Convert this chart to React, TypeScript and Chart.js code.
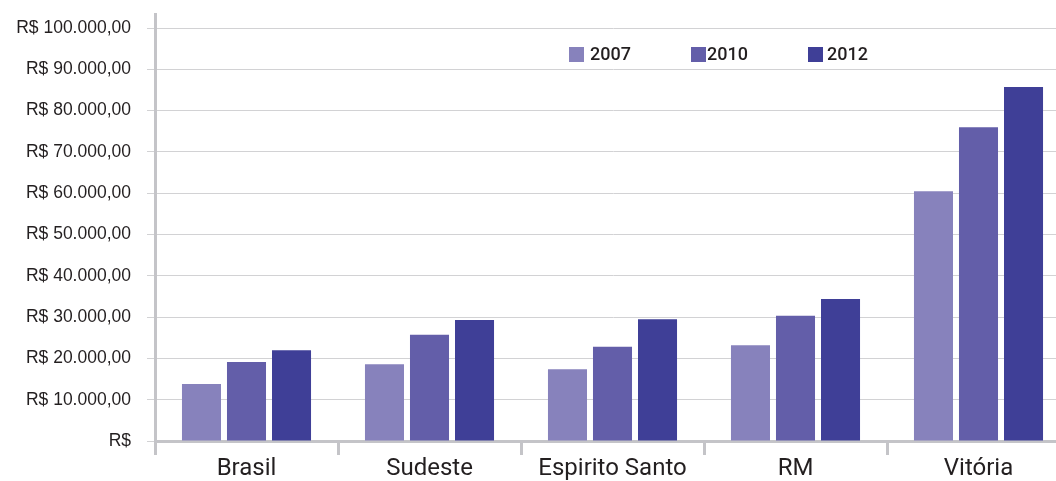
import React, { useEffect, useRef } from "react";
import { Chart, registerables } from "chart.js";

Chart.register(...registerables);

const categories = ["Brasil", "Sudeste", "Espirito Santo", "RM", "Vitória"];
const seriesNames = ["2007", "2010", "2012"];
const values2007 = [13800, 18600, 17400, 23200, 60500];
const values2010 = [19100, 25700, 22800, 30300, 76000];
const values2012 = [22000, 29300, 29500, 34400, 85700];
const yTickValues = [0, 10000, 20000, 30000, 40000, 50000, 60000, 70000, 80000, 90000, 100000];
const seriesColors = ["#8782bc", "#635ea9", "#3f3f97"];

const fmt = (v: number) => {
  if (v === 0) return "R$";
  const s = Math.round(v).toString().replace(/\B(?=(\d{3})+(?!\d))/g, ".");
  return "R$ " + s + ",00";
};

const legendLeft = [569, 691, 808];

export default function App() {
  const ref = useRef<HTMLCanvasElement>(null);
  useEffect(() => {
    if (!ref.current) return;
    const seriesValues = [values2007, values2010, values2012];
    const chart = new Chart(ref.current, {
      type: "bar",
      data: {
        labels: categories,
        datasets: seriesNames.map((n, i) => ({
          label: n,
          data: seriesValues[i],
          backgroundColor: seriesColors[i],
          borderWidth: 0,
          barPercentage: 0.867,
          categoryPercentage: 0.738,
        })),
      },
      options: {
        responsive: false,
        animation: false,
        layout: { padding: { top: 14, left: 0, right: 0, bottom: 0 } },
        plugins: { legend: { display: false }, tooltip: { enabled: false } },
        scales: {
          x: {
            offset: true,
            grid: {
              offset: true,
              drawOnChartArea: false,
              drawTicks: true,
              tickLength: 14,
              color: "#c4c4c8",
              lineWidth: 3,
            },
            border: { color: "#c4c4c8", width: 3 },
            ticks: {
              padding: 0,
              color: "#231f20",
              font: { family: "Roboto", size: 24 },
              maxRotation: 0,
              autoSkip: false,
            },
            afterFit: (s: any) => {
              s.height = 40;
            },
          },
          y: {
            min: 0,
            max: 103400,
            grid: {
              color: "#d2d2d4",
              lineWidth: 1,
              tickLength: 8,
            },
            border: { color: "#c4c4c8", width: 3 },
            ticks: {
              padding: 16,
              color: "#231f20",
              font: { family: "Liberation Sans", size: 17.5 },
              callback: (v: any) => fmt(Number(v)),
            },
            afterBuildTicks: (axis: any) => {
              axis.ticks = yTickValues.map((v) => ({ value: v }));
            },
            afterFit: (s: any) => {
              s.width = 155;
              s.paddingTop = 0;
              s.paddingBottom = 0;
            },
          },
        },
      },
    });
    return () => chart.destroy();
  }, []);

  return (
    <div
      style={{
        position: "absolute",
        left: 0,
        top: 0,
        width: 1056,
        height: 481,
        overflow: "hidden",
        background: "#ffffff",
      }}
    >
      <canvas ref={ref} width={1070} height={481} style={{ width: 1070, height: 481, display: "block" }} />
      {seriesNames.map((n, i) => (
        <div
          key={n}
          style={{
            position: "absolute",
            left: legendLeft[i],
            top: 44,
            display: "flex",
            alignItems: "center",
            fontFamily: "Roboto",
            fontSize: 18,
            fontWeight: 500,
            color: "#231f20",
            lineHeight: "20px",
          }}
        >
          <span
            style={{
              display: "inline-block",
              width: 15,
              height: 15,
              background: seriesColors[i],
              marginRight: i === 0 ? 6 : i === 1 ? 1 : 4,
            }}
          />
          <span>{n}</span>
        </div>
      ))}
    </div>
  );
}
